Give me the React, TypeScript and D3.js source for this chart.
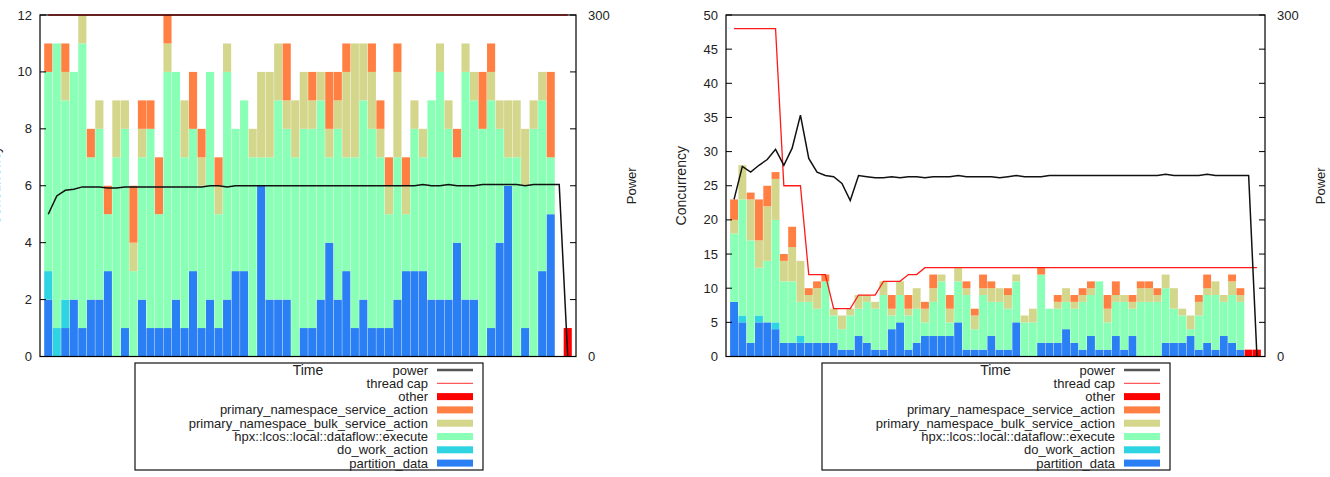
import React, { useEffect, useRef } from "react";
import { select, scaleLinear, stack, line } from "d3";

// stacked task categories, bottom of the stack first
const seriesKeys = [
  "partition_data",
  "do_work_action",
  "hpx::lcos::local::dataflow::execute",
  "primary_namespace_bulk_service_action",
  "primary_namespace_service_action",
  "other",
];

const seriesColors: Record<string, string> = {
  partition_data: "#2b7ff4",
  do_work_action: "#2fd4e2",
  "hpx::lcos::local::dataflow::execute": "#8affb6",
  primary_namespace_bulk_service_action: "#d4d68c",
  primary_namespace_service_action: "#ff8042",
  other: "#ff0000",
};

// ---- left run ----
const leftPartition = [2, 0, 1, 2, 1, 2, 2, 3, 0, 1, 0, 2, 1, 1, 1, 2, 1, 3, 1, 2, 1, 2, 3, 3, 0, 6, 2, 2, 2, 0, 1, 1, 2, 4, 2, 3, 1, 2, 1, 1, 1, 2, 3, 3, 3, 2, 2, 2, 4, 2, 2, 0, 1, 4, 6, 0, 1, 0, 3, 5, 0, 0];
const leftDoWork = [1, 1, 1, 0, 0, 0, 0, 0, 0, 0, 0, 0, 0, 0, 0, 0, 0, 0, 0, 0, 0, 0, 0, 0, 0, 0, 0, 0, 0, 0, 0, 0, 0, 0, 0, 0, 0, 0, 0, 0, 0, 0, 0, 0, 0, 0, 0, 0, 0, 0, 0, 0, 0, 0, 0, 0, 0, 0, 0, 0, 0, 0];
const leftDataflow = [7, 10, 7, 8, 10, 5, 6, 2, 7, 7, 3, 5, 7, 4, 9, 8, 6, 5, 5, 8, 4, 8, 5, 6, 7, 1, 5, 7, 6, 7, 7, 7, 7, 3, 6, 4, 6, 7, 7, 6, 4, 5, 2, 5, 4, 7, 8, 6, 3, 8, 7, 8, 8, 4, 1, 7, 5, 8, 6, 2, 0, 0];
const leftBulk = [0, 0, 1, 0, 1, 0, 1, 0, 2, 1, 1, 1, 0, 0, 1, 0, 2, 0, 1, 0, 1, 1, 0, 0, 1, 3, 3, 2, 1, 2, 2, 1, 1, 1, 1, 3, 4, 2, 2, 1, 1, 3, 1, 1, 1, 0, 1, 1, 0, 1, 1, 0, 1, 1, 2, 2, 2, 1, 1, 0, 0, 0];
const leftService = [1, 0, 1, 0, 0, 1, 0, 1, 0, 0, 2, 1, 1, 2, 1, 0, 0, 2, 1, 0, 1, 0, 0, 0, 0, 0, 0, 0, 2, 0, 0, 1, 0, 2, 1, 1, 0, 0, 1, 1, 1, 1, 1, 0, 0, 0, 0, 0, 1, 0, 0, 2, 1, 0, 0, 0, 0, 0, 0, 3, 0, 0];
const leftOther = [0, 0, 0, 0, 0, 0, 0, 0, 0, 0, 0, 0, 0, 0, 0, 0, 0, 0, 0, 0, 0, 0, 0, 0, 0, 0, 0, 0, 0, 0, 0, 0, 0, 0, 0, 0, 0, 0, 0, 0, 0, 0, 0, 0, 0, 0, 0, 0, 0, 0, 0, 0, 0, 0, 0, 0, 0, 0, 0, 0, 0, 1];
const leftPower = [125, 141, 146, 147, 149, 149, 149, 148, 148, 149, 149, 149, 149, 149, 149, 149, 149, 149, 149, 150, 150, 149, 150, 150, 150, 150, 150, 150, 150, 150, 150, 150, 150, 150, 150, 150, 150, 150, 150, 150, 150, 150, 150, 150, 151, 150, 150, 151, 150, 150, 150, 151, 151, 151, 151, 151, 150, 151, 151, 151, 151, 0];
const leftThreadCap = [12, 12, 12, 12, 12, 12, 12, 12, 12, 12, 12, 12, 12, 12, 12, 12, 12, 12, 12, 12, 12, 12, 12, 12, 12, 12, 12, 12, 12, 12, 12, 12, 12, 12, 12, 12, 12, 12, 12, 12, 12, 12, 12, 12, 12, 12, 12, 12, 12, 12, 12, 12, 12, 12, 12, 12, 12, 12, 12, 12, 12, 12];
const leftTicks = [0, 2, 4, 6, 8, 10, 12];

// ---- right run ----
const rightPartition = [8, 5, 2, 5, 5, 4, 2, 2, 2, 2, 2, 2, 2, 1, 1, 3, 2, 1, 1, 4, 5, 1, 2, 3, 3, 3, 3, 5, 1, 1, 1, 3, 1, 1, 5, 0, 0, 2, 2, 2, 4, 2, 1, 3, 1, 1, 3, 1, 3, 0, 0, 0, 2, 2, 2, 3, 1, 2, 1, 3, 2, 1, 0, 0];
const rightDoWork = [0, 1, 0, 1, 0, 1, 0, 0, 1, 0, 0, 0, 0, 0, 0, 0, 0, 0, 0, 0, 0, 0, 0, 0, 0, 0, 0, 0, 0, 0, 0, 0, 0, 0, 0, 0, 0, 0, 0, 0, 0, 0, 0, 0, 0, 0, 0, 0, 0, 0, 0, 0, 0, 0, 0, 0, 0, 0, 0, 0, 0, 0, 0, 0];
const rightDataflow = [10, 17, 15, 7, 9, 15, 9, 9, 5, 6, 5, 9, 4, 3, 5, 4, 6, 6, 8, 2, 4, 5, 5, 2, 5, 8, 2, 6, 8, 3, 8, 5, 7, 6, 6, 5, 5, 10, 5, 5, 4, 5, 7, 6, 10, 4, 5, 7, 4, 8, 8, 8, 8, 5, 4, 1, 5, 7, 8, 5, 7, 7, 0, 0];
const rightBulk = [2, 5, 6, 4, 8, 6, 3, 5, 6, 1, 3, 0, 1, 2, 1, 2, 1, 1, 2, 1, 2, 1, 3, 2, 2, 1, 2, 2, 1, 2, 1, 2, 2, 2, 1, 1, 2, 0, 0, 1, 2, 1, 1, 1, 0, 2, 1, 1, 1, 2, 2, 1, 2, 3, 1, 2, 2, 1, 2, 1, 2, 1, 0, 0];
const rightService = [3, 0, 1, 6, 3, 1, 1, 3, 0, 1, 1, 1, 0, 0, 0, 0, 0, 0, 0, 2, 0, 2, 0, 1, 2, 0, 2, 0, 1, 1, 2, 1, 0, 1, 0, 0, 0, 1, 0, 1, 0, 1, 1, 1, 0, 2, 2, 0, 1, 1, 1, 1, 0, 0, 0, 0, 1, 2, 0, 0, 1, 1, 0, 0];
const rightOther = [0, 0, 0, 0, 0, 0, 0, 0, 0, 0, 0, 0, 0, 0, 0, 0, 0, 0, 0, 0, 0, 0, 0, 0, 0, 0, 0, 0, 0, 0, 0, 0, 0, 0, 0, 0, 0, 0, 0, 0, 0, 0, 0, 0, 0, 0, 0, 0, 0, 0, 0, 0, 0, 0, 0, 0, 0, 0, 0, 0, 0, 0, 1, 1];
const rightPower = [138, 167, 162, 168, 173, 182, 168, 183, 212, 174, 162, 159, 158, 152, 137, 159, 158, 157, 157, 158, 157, 158, 158, 157, 158, 158, 158, 159, 158, 158, 158, 158, 157, 158, 159, 158, 158, 158, 159, 159, 159, 159, 159, 159, 159, 159, 159, 159, 159, 159, 159, 159, 160, 159, 159, 159, 159, 160, 159, 159, 159, 159, 159, 0];
const rightThreadCap = [48, 48, 48, 48, 48, 48, 25, 25, 25, 12, 12, 12, 7, 7, 7, 9, 9, 9, 11, 11, 11, 12, 12, 13, 13, 13, 13, 13, 13, 13, 13, 13, 13, 13, 13, 13, 13, 13, 13, 13, 13, 13, 13, 13, 13, 13, 13, 13, 13, 13, 13, 13, 13, 13, 13, 13, 13, 13, 13, 13, 13, 13, 13, 13];
const rightTicks = [0, 5, 10, 15, 20, 25, 30, 35, 40, 45, 50];

const powerTicks = [0, 300];

const FONT = "'Liberation Sans', Arial, Helvetica, sans-serif";
const TEXT = "#222";

type Panel = {
  left: number;
  right: number;
  top: number;
  bottom: number;
  yMax: number;
  ticks: number[];
  layers: number[][];
  power: number[];
  threadCap: number[];
  legendX: number;
};

const panels: Panel[] = [
  {
    left: 40, right: 576, top: 15, bottom: 356.5, yMax: 12, ticks: leftTicks,
    layers: [leftPartition, leftDoWork, leftDataflow, leftBulk, leftService, leftOther],
    power: leftPower, threadCap: leftThreadCap, legendX: 135,
  },
  {
    left: 726, right: 1265, top: 15, bottom: 356.5, yMax: 50, ticks: rightTicks,
    layers: [rightPartition, rightDoWork, rightDataflow, rightBulk, rightService, rightOther],
    power: rightPower, threadCap: rightThreadCap, legendX: 822,
  },
];

function drawPanel(svg: any, p: Panel) {
  const n = p.layers[0].length;
  const x = scaleLinear().domain([-0.97, n - 0.03]).range([p.left, p.right]);
  const y = scaleLinear().domain([0, p.yMax]).range([p.bottom, p.top]);
  const y2 = scaleLinear().domain([0, 300]).range([p.bottom, p.top]);
  const midY = (p.top + p.bottom) / 2;
  const midX = (p.left + p.right) / 2;

  const rows = p.layers[0].map((_, i) => {
    const r: Record<string, number> = {};
    seriesKeys.forEach((k, j) => (r[k] = p.layers[j][i]));
    return r;
  });
  const stacked = stack<Record<string, number>>().keys(seriesKeys)(rows);

  const g = svg.append("g");

  // stacked bars, with a faint seam between neighbours
  g.selectAll("g.layer")
    .data(stacked)
    .join("g")
    .attr("class", "layer")
    .attr("fill", (d: any) => seriesColors[d.key])
    .selectAll("rect")
    .data((d: any) => d.map((s: number[], i: number) => ({ s, i })).filter((v: any) => v.s[1] > v.s[0]))
    .join("rect")
    .attr("x", (v: any) => x(v.i - 0.5) + 0.2)
    .attr("width", (v: any) => x(v.i + 0.5) - x(v.i - 0.5) - 0.4)
    .attr("y", (v: any) => y(v.s[1]))
    .attr("height", (v: any) => y(v.s[0]) - y(v.s[1]));

  // thread cap, then power on top
  g.append("path")
    .attr("d", line<number>().x((_, i) => x(i)).y((d) => y(d))(p.threadCap))
    .attr("fill", "none")
    .attr("stroke", "#ff1a1a")
    .attr("stroke-width", 1.3);

  g.append("path")
    .attr("d", line<number>().x((_, i) => x(i)).y((d) => y2(d))(p.power))
    .attr("fill", "none")
    .attr("stroke", "#111")
    .attr("stroke-width", 1.5);

  // frame
  g.append("rect")
    .attr("x", p.left).attr("y", p.top)
    .attr("width", p.right - p.left).attr("height", p.bottom - p.top)
    .attr("fill", "none").attr("stroke", "#000").attr("stroke-width", 1.2);

  // inward ticks, mirrored on the right border
  p.ticks.forEach((t) => {
    g.append("line").attr("x1", p.left).attr("x2", p.left + 6).attr("y1", y(t)).attr("y2", y(t))
      .attr("stroke", "#000").attr("stroke-width", 1);
    g.append("line").attr("x1", p.right - 6).attr("x2", p.right).attr("y1", y(t)).attr("y2", y(t))
      .attr("stroke", "#000").attr("stroke-width", 1);
  });

  const txt = (sel: any, size: number) =>
    sel.attr("font-family", FONT).attr("font-size", size).attr("fill", TEXT);

  g.selectAll("text.ytick").data(p.ticks).join("text")
    .attr("class", "ytick")
    .attr("x", p.left - 8).attr("y", (t: number) => y(t))
    .attr("text-anchor", "end").attr("dominant-baseline", "central")
    .text((t: number) => t)
    .call(txt, 13);

  g.selectAll("text.y2tick").data(powerTicks).join("text")
    .attr("class", "y2tick")
    .attr("x", p.right + 12).attr("y", (t: number) => y2(t))
    .attr("text-anchor", "start").attr("dominant-baseline", "central")
    .text((t: number) => t)
    .call(txt, 13);

  g.append("text")
    .attr("transform", `translate(${p.left - 40},${midY}) rotate(-90)`)
    .attr("text-anchor", "middle")
    .text("Concurrency")
    .call(txt, 14);

  g.append("text")
    .attr("transform", `translate(${p.right + 60},${midY}) rotate(-90)`)
    .attr("text-anchor", "middle")
    .text("Power")
    .call(txt, 13);

  // key box with the x label sitting inside its top edge
  const lx = p.legendX;
  g.append("rect")
    .attr("x", lx).attr("y", 363).attr("width", 348).attr("height", 107)
    .attr("fill", "none").attr("stroke", "#111").attr("stroke-width", 1.2);

  g.append("text")
    .attr("x", midX).attr("y", 370)
    .attr("text-anchor", "middle").attr("dominant-baseline", "central")
    .text("Time")
    .call(txt, 14);

  const keyRows = [
    { label: "power", kind: "line", color: "#555", w: 2.5 },
    { label: "thread cap", kind: "line", color: "#ff3030", w: 1 },
    ...seriesKeys.slice().reverse().map((k) => ({ label: k, kind: "box", color: seriesColors[k], w: 0 })),
  ];

  keyRows.forEach((r, k) => {
    const ry = 370 + k * 13.3;
    g.append("text")
      .attr("x", lx + 293).attr("y", ry)
      .attr("text-anchor", "end").attr("dominant-baseline", "central")
      .text(r.label)
      .call(txt, 13);
    if (r.kind === "line") {
      g.append("line")
        .attr("x1", lx + 302).attr("x2", lx + 338).attr("y1", ry).attr("y2", ry)
        .attr("stroke", r.color).attr("stroke-width", r.w);
    } else {
      g.append("rect")
        .attr("x", lx + 302).attr("y", ry - 3.5).attr("width", 36).attr("height", 7)
        .attr("fill", r.color);
    }
  });
}

export default function App() {
  const svgRef = useRef<SVGSVGElement>(null);

  useEffect(() => {
    const svg = select(svgRef.current);
    svg.selectAll("*").remove();
    panels.forEach((p) => drawPanel(svg, p));
  }, []);

  return (
    <div style={{ position: "absolute", left: 0, top: 0, width: 1330, height: 477, background: "#fff" }}>
      <svg ref={svgRef} width={1330} height={477}></svg>
    </div>
  );
}
